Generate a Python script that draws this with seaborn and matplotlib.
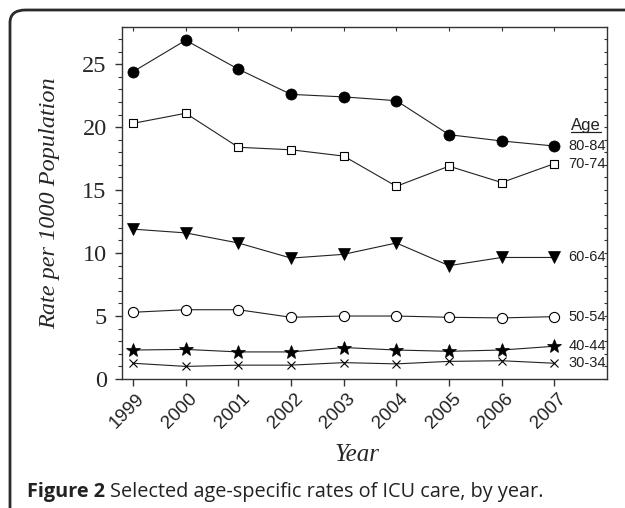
import matplotlib
matplotlib.use("Agg")
import matplotlib.pyplot as plt
import seaborn as sns
import pandas as pd
from matplotlib.patches import FancyBboxPatch
from matplotlib.ticker import MultipleLocator

years = [1999, 2000, 2001, 2002, 2003, 2004, 2005, 2006, 2007]
age_groups = ["80-84", "70-74", "60-64", "50-54", "40-44", "30-34"]
rate_80_84 = [24.4, 26.9, 24.6, 22.6, 22.4, 22.1, 19.4, 18.9, 18.5]
rate_70_74 = [20.3, 21.1, 18.4, 18.2, 17.7, 15.3, 16.9, 15.6, 17.1]
rate_60_64 = [11.9, 11.6, 10.8, 9.6, 9.9, 10.8, 9.0, 9.65, 9.65]
rate_50_54 = [5.3, 5.5, 5.5, 4.9, 5.0, 5.0, 4.9, 4.85, 4.95]
rate_40_44 = [2.3, 2.35, 2.15, 2.15, 2.5, 2.3, 2.2, 2.3, 2.6]
rate_30_34 = [1.25, 1.0, 1.1, 1.1, 1.3, 1.2, 1.4, 1.45, 1.25]
y_ticks = [0, 5, 10, 15, 20, 25]

series = [rate_80_84, rate_70_74, rate_60_64, rate_50_54, rate_40_44, rate_30_34]
df = pd.DataFrame({
    "Year": [y for _ in age_groups for y in years],
    "Rate": [v for s in series for v in s],
    "Age": [a for a in age_groups for _ in years],
})

sns.set_style("ticks")
plt.rcParams["font.family"] = ["DejaVu Sans"]

fig = plt.figure(figsize=(6.25, 5.08), dpi=100)
ax = fig.add_axes([122 / 625, 1 - 379 / 508, (607 - 122) / 625, (379 - 27) / 508])

styles = {
    "80-84": dict(marker="o", ms=8, mfc="black", mec="black"),
    "70-74": dict(marker="s", ms=6.3, mfc="white", mec="black", mew=0.8),
    "60-64": dict(marker="v", ms=8.5, mfc="black", mec="black"),
    "50-54": dict(marker="o", ms=7.3, mfc="white", mec="black", mew=0.8),
    "40-44": dict(marker="*", ms=10, mfc="black", mec="black"),
    "30-34": dict(marker="x", ms=6, mfc="none", mec="black", mew=0.8),
}

for age in age_groups:
    sub = df[df["Age"] == age]
    st = styles[age]
    sns.lineplot(data=sub, x="Year", y="Rate", ax=ax, color="#222222", lw=0.8,
                 marker=st["marker"], markersize=st["ms"],
                 markerfacecolor=st["mfc"], markeredgecolor=st["mec"],
                 markeredgewidth=st.get("mew", 0.5), legend=False, zorder=3)
    last = sub["Rate"].iloc[-1]
    ax.annotate(age, xy=(years[-1], last), xytext=(10, 0), textcoords="offset points",
                ha="left", va="center", fontsize=10.5,
                family=["Liberation Sans"], color="#222222")

ax.annotate("Age", xy=(years[-1], rate_80_84[-1]), xytext=(12, 15),
            textcoords="offset points", ha="left", va="center",
            fontsize=12, family=["Liberation Sans"], color="#222222")

ax.set_xlim(1998.79, 2008.0)
ax.set_ylim(0, 27.95)
ax.set_xticks(years)
ax.set_xticklabels([])
# rotated year labels, anchored at their right end, placed below each tick
for yr in years:
    ax.annotate(str(yr), xy=(yr, 0), xycoords=ax.get_xaxis_transform(),
                xytext=(6.5, -12.3), textcoords="offset points",
                rotation=45, rotation_mode="anchor", ha="right", va="center",
                fontsize=13.5, family=["Liberation Sans"], color="#222222",
                annotation_clip=False)
ax.set_yticks(y_ticks)
ax.set_yticklabels([str(v) for v in y_ticks], fontsize=17.5, family=["Liberation Serif"])
ax.yaxis.set_minor_locator(MultipleLocator(1))

ax.set_xlabel("Year", fontsize=18, style="italic", family=["Liberation Serif"])
ax.xaxis.label.set_va("center")
ax.set_ylabel("Rate per 1000 Population", fontsize=17.5, style="italic",
              family=["Liberation Serif"])
ax.yaxis.label.set_va("center")
ax.xaxis.set_label_coords((357 - 122) / 485, -(455 - 379) / 352)
ax.yaxis.set_label_coords(-(122 - 50) / 485, 0.5)

for s in ax.spines.values():
    s.set_visible(True)
    s.set_color("#333333")
    s.set_linewidth(1.0)

ax.tick_params(axis="x", which="major", direction="out", length=5, width=1, color="#333333",
               top=False, pad=3)
ax.tick_params(axis="y", which="major", direction="out", length=5, width=1, color="#333333", pad=6)
ax.tick_params(axis="y", which="minor", direction="out", length=3, width=0.8, color="#333333")

# inward ticks on top and right
secx = ax.secondary_xaxis("top")
secx.set_xticks(years)
secx.tick_params(direction="in", length=3, width=0.8, color="#333333", labeltop=False)
secx.spines["top"].set_visible(False)
secy = ax.secondary_yaxis("right")
secy.set_yticks([])
secy.yaxis.set_minor_locator(MultipleLocator(1))
secy.tick_params(which="minor", direction="in", length=2.5, width=0.8, color="#333333", labelright=False)
secy.spines["right"].set_visible(False)

fig.canvas.draw()
renderer = fig.canvas.get_renderer()

# underline Age
for t in ax.texts:
    if t.get_text() == "Age":
        bb = t.get_window_extent(renderer).transformed(fig.transFigure.inverted())
        fig.add_artist(plt.Line2D([bb.x0, bb.x1], [bb.y0 + 0.002, bb.y0 + 0.002],
                                  transform=fig.transFigure, color="#222222", lw=0.9))

# frame
frame = FancyBboxPatch((10 / 625, -0.2), 1.2, 1 - 10 / 508 + 0.2,
                       boxstyle="round,pad=0,rounding_size=0.025",
                       transform=fig.transFigure, fill=False, ec="#2a2a2a", lw=2.0,
                       clip_on=False)
fig.add_artist(frame)

# caption
cap_y = 1 - 497 / 508
t1 = fig.text(27 / 625, cap_y, "Figure 2", fontsize=14.3, fontweight="bold",
              family=["Open Sans"], color="#222222", va="baseline")
fig.canvas.draw()
bb = t1.get_window_extent(renderer).transformed(fig.transFigure.inverted())
fig.text(bb.x1 + 5 / 625, cap_y, "Selected age-specific rates of ICU care, by year.",
         fontsize=14.3, family=["Open Sans"], color="#222222", va="baseline")

fig.savefig("out.png", dpi=100)
